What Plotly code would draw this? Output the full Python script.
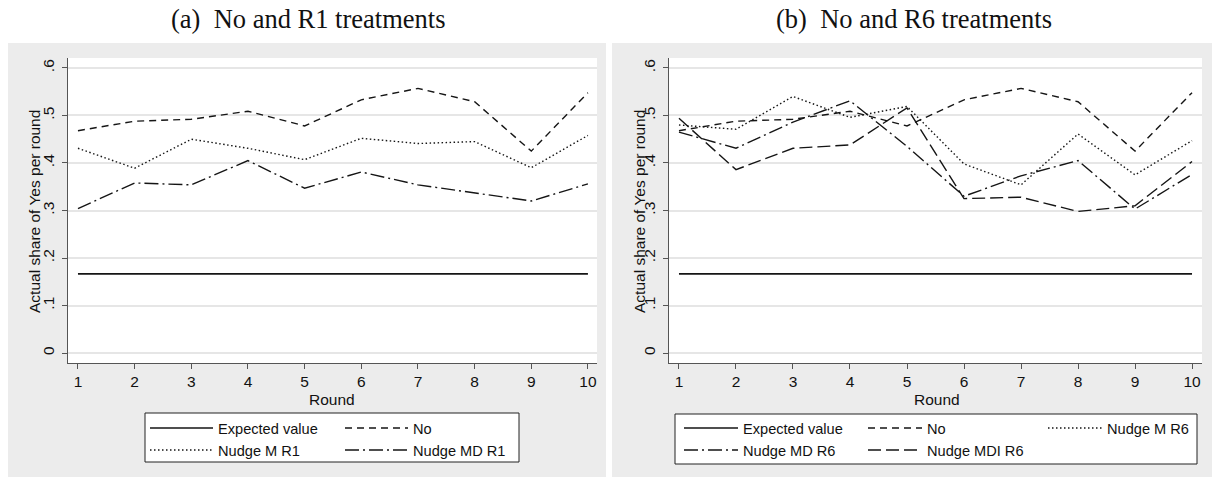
import plotly.graph_objects as go

W, H = 1217, 477

rounds = [1, 2, 3, 4, 5, 6, 7, 8, 9, 10]
expected_value = [1/6] * 10
no_treat = [0.468, 0.488, 0.492, 0.509, 0.478, 0.533, 0.557, 0.529, 0.425, 0.548]
nudge_m_r1 = [0.431, 0.389, 0.450, 0.431, 0.407, 0.452, 0.441, 0.445, 0.390, 0.458]
nudge_md_r1 = [0.304, 0.358, 0.354, 0.405, 0.347, 0.381, 0.354, 0.337, 0.320, 0.356]
nudge_m_r6 = [0.480, 0.471, 0.540, 0.496, 0.519, 0.398, 0.354, 0.461, 0.375, 0.447]
nudge_md_r6 = [0.465, 0.431, 0.486, 0.531, 0.435, 0.330, 0.373, 0.405, 0.303, 0.376]
nudge_mdi_r6 = [0.494, 0.386, 0.431, 0.438, 0.516, 0.325, 0.328, 0.298, 0.310, 0.403]

y_tickvals = [0, 0.1, 0.2, 0.3, 0.4, 0.5, 0.6]
y_ticktext = ["0", ".1", ".2", ".3", ".4", ".5", ".6"]
x_tickvals = rounds
panel_titles = ["(a)  No and R1 treatments", "(b)  No and R6 treatments"]
y_title = "Actual share of Yes per round"
x_title = "Round"


def px(x):
    return x / W


def py(y):
    return 1 - y / H


LINE = "#151515"
SANS = "Liberation Sans"
SERIF = "Liberation Serif"

DASH_NO = "7px,5px"
DASH_DOT = "1.5px,2.5px"
DASH_MD = "14px,4px,2px,4px"
DASH_MDI = "13px,5px"

fig = go.Figure()


def add(x, y, name, dash, xa, ya, legend, width=1.4):
    fig.add_trace(go.Scatter(
        x=x, y=y, name=name, mode="lines",
        line=dict(color=LINE, width=width, dash=dash),
        xaxis=xa, yaxis=ya, legend=legend, showlegend=True,
    ))


# Left panel
add(rounds, expected_value, "Expected value", "solid", "x", "y", "legend", 1.6)
add(rounds, nudge_m_r1, "Nudge M R1", DASH_DOT, "x", "y", "legend")
add(rounds, no_treat, "No", DASH_NO, "x", "y", "legend2")
add(rounds, nudge_md_r1, "Nudge MD R1", DASH_MD, "x", "y", "legend2")
# Right panel
add(rounds, expected_value, "Expected value", "solid", "x2", "y2", "legend3", 1.6)
add(rounds, nudge_md_r6, "Nudge MD R6", DASH_MD, "x2", "y2", "legend3")
add(rounds, no_treat, "No", DASH_NO, "x2", "y2", "legend4")
add(rounds, nudge_mdi_r6, "Nudge MDI R6", DASH_MDI, "x2", "y2", "legend4")
add(rounds, nudge_m_r6, "Nudge M R6", DASH_DOT, "x2", "y2", "legend5")

# plot areas in pixels
L = dict(x0=68, x1=597, y0=58, y1=363)
R = dict(x0=669, x1=1202, y0=58, y1=363)

tickfont = dict(family=SANS, size=15.5, color="#111")
axis_common = dict(
    showline=True, linecolor="#555", linewidth=1,
    ticks="outside", ticklen=5, tickcolor="#555", tickwidth=1,
    zeroline=False, tickfont=tickfont, fixedrange=True,
)

fig.update_layout(
    xaxis=dict(domain=[px(L["x0"]), px(L["x1"])], range=[0.824, 10.16],
               tickvals=x_tickvals, showgrid=False, anchor="y",
               ticklabelstandoff=-1, **axis_common),
    yaxis=dict(domain=[py(L["y1"]), py(L["y0"])], range=[-0.021, 0.621],
               tickvals=y_tickvals, ticktext=y_ticktext, tickangle=-90,
               showgrid=True, gridcolor="#e6e6e6", gridwidth=1.5, anchor="x",
               ticklabelstandoff=2, **axis_common),
    xaxis2=dict(domain=[px(R["x0"]), px(R["x1"])], range=[0.825, 10.175],
                tickvals=x_tickvals, showgrid=False, anchor="y2",
                ticklabelstandoff=-1, **axis_common),
    yaxis2=dict(domain=[py(R["y1"]), py(R["y0"])], range=[-0.021, 0.621],
                tickvals=y_tickvals, ticktext=y_ticktext, tickangle=-90,
                showgrid=True, gridcolor="#e6e6e6", gridwidth=1.5, anchor="x2",
                ticklabelstandoff=2, **axis_common),
)

# backgrounds
GRAY = "#ececec"
shapes = [
    dict(type="rect", xref="paper", yref="paper", x0=px(8), x1=px(606), y0=py(477), y1=py(43),
         fillcolor=GRAY, line=dict(width=0), layer="below"),
    dict(type="rect", xref="paper", yref="paper", x0=px(612), x1=px(1212), y0=py(477), y1=py(43),
         fillcolor=GRAY, line=dict(width=0), layer="below"),
    dict(type="rect", xref="paper", yref="paper", x0=px(L["x0"]), x1=px(L["x1"]), y0=py(L["y1"]), y1=py(L["y0"]),
         fillcolor="white", line=dict(width=0), layer="below"),
    dict(type="rect", xref="paper", yref="paper", x0=px(R["x0"]), x1=px(R["x1"]), y0=py(R["y1"]), y1=py(R["y0"]),
         fillcolor="white", line=dict(width=0), layer="below"),
    # legend boxes
    dict(type="rect", xref="paper", yref="paper", x0=px(145), x1=px(519), y0=py(462), y1=py(413),
         fillcolor="white", line=dict(width=1, color="#222"), layer="below"),
    dict(type="rect", xref="paper", yref="paper", x0=px(675), x1=px(1197), y0=py(464), y1=py(414),
         fillcolor="white", line=dict(width=1, color="#222"), layer="below"),
]

annotations = [
    dict(text=panel_titles[0], x=px(308), y=py(19), xref="paper", yref="paper",
         showarrow=False, font=dict(family=SERIF, size=26.5, color="#111"), xanchor="center", yanchor="middle"),
    dict(text=panel_titles[1], x=px(914), y=py(19), xref="paper", yref="paper",
         showarrow=False, font=dict(family=SERIF, size=26.5, color="#111"), xanchor="center", yanchor="middle"),
    dict(text=y_title, x=px(34), y=py(212), xref="paper", yref="paper", textangle=-90,
         showarrow=False, font=dict(family=SANS, size=15.5, color="#111"), xanchor="center", yanchor="middle"),
    dict(text=y_title, x=px(639), y=py(212), xref="paper", yref="paper", textangle=-90,
         showarrow=False, font=dict(family=SANS, size=15.5, color="#111"), xanchor="center", yanchor="middle"),
    dict(text=x_title, x=px(332), y=py(399), xref="paper", yref="paper",
         showarrow=False, font=dict(family=SANS, size=15.5, color="#111"), xanchor="center", yanchor="middle"),
    dict(text=x_title, x=px(937), y=py(399), xref="paper", yref="paper",
         showarrow=False, font=dict(family=SANS, size=15.5, color="#111"), xanchor="center", yanchor="middle"),
]

legfont = dict(family=SANS, size=14.6, color="#111")


def leg(xpix, ypix, itemw):
    return dict(x=px(xpix), y=py(ypix), xanchor="left", yanchor="top",
                xref="paper", yref="paper", orientation="v",
                bgcolor="rgba(0,0,0,0)", borderwidth=0, font=legfont,
                itemwidth=itemw, tracegroupgap=0, traceorder="normal",
                itemclick=False, itemdoubleclick=False)


fig.update_layout(
    width=W, height=H,
    margin=dict(l=0, r=0, t=0, b=0),
    paper_bgcolor="white", plot_bgcolor="white",
    shapes=shapes, annotations=annotations,
    legend=leg(145, 412, 63),
    legend2=leg(340, 412, 63),
    legend3=leg(679, 412, 54),
    legend4=leg(863, 412, 54),
    legend5=leg(1043, 412, 54),
)

fig.write_html("out.html")
